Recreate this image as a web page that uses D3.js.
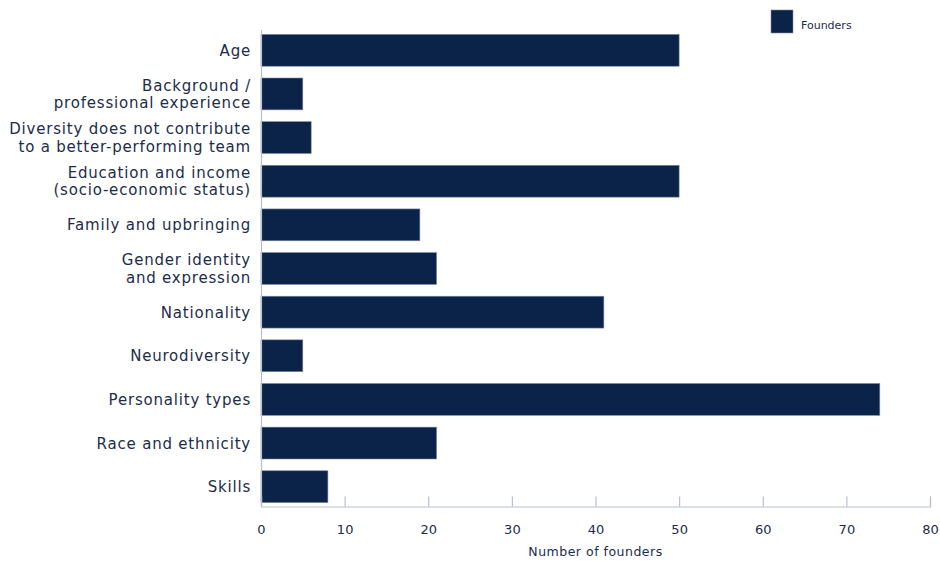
<!DOCTYPE html>
<html>
<head>
<meta charset="utf-8">
<script src="https://cdn.jsdelivr.net/npm/d3@7"></script>
<style>
  body { margin: 0; background: #ffffff; }
  svg text { font-family: "DejaVu Sans", sans-serif; fill: #1d2c4c; }
</style>
</head>
<body>
<svg id="chart" width="940" height="561"></svg>
<script>
// Reasons founders gave, one entry per bar (lines split for wrapped labels)
const categories = [
  ["Age"],
  ["Background /", "professional experience"],
  ["Diversity does not contribute", "to a better-performing team"],
  ["Education and income", "(socio-economic status)"],
  ["Family and upbringing"],
  ["Gender identity", "and expression"],
  ["Nationality"],
  ["Neurodiversity"],
  ["Personality types"],
  ["Race and ethnicity"],
  ["Skills"]
];
const founders = [50, 5, 6, 50, 19, 21, 41, 5, 74, 21, 8];
const xTicks = [0, 10, 20, 30, 40, 50, 60, 70, 80];
const seriesName = "Founders";
const xTitle = "Number of founders";

const svg = d3.select("#chart");
const navy = "#0b2349";
const axisGrey = "#b9c0cc";
const lineGap = 17.5;

const x = d3.scaleLinear().domain([0, 80]).range([261, 930]);
const keys = categories.map(c => c.join(" "));
const y = d3.scaleBand().domain(keys).range([30, 507]).paddingInner(0.27).paddingOuter(0.1);

// bars
svg.append("g").selectAll("rect")
  .data(founders)
  .join("rect")
  .attr("x", x(0))
  .attr("y", (d, i) => y(keys[i]))
  .attr("width", d => x(d) - x(0))
  .attr("height", y.bandwidth())
  .attr("fill", navy)
  .attr("stroke", "#7c8aa3")
  .attr("stroke-width", 0.6);

// x axis: ticks point up into the plot
const xAxis = d3.axisBottom(x).tickValues(xTicks).tickSize(-10).tickPadding(18);
const gx = svg.append("g").attr("transform", "translate(0,506.5)").call(xAxis);
gx.select(".domain").attr("stroke", axisGrey).attr("stroke-width", 1.2);
gx.selectAll(".tick line").attr("stroke", axisGrey).attr("stroke-width", 1.2);
gx.selectAll(".tick text").attr("font-size", 13).attr("fill", "#1d2c4c")
  .style("font-family", "'DejaVu Sans', sans-serif");

// y axis line
svg.append("line")
  .attr("x1", 261.5).attr("x2", 261.5)
  .attr("y1", 30).attr("y2", 507)
  .attr("stroke", axisGrey).attr("stroke-width", 1.2);

// category labels
const lab = svg.append("g").selectAll("text")
  .data(categories)
  .join("text")
  .attr("text-anchor", "end")
  .attr("font-size", 15)
  .attr("letter-spacing", 0.8)
  .attr("transform", (d, i) => {
    const cy = y(keys[i]) + y.bandwidth() / 2;
    const off = (d.length - 1) * lineGap / 2;
    return `translate(251,${cy - off + 5.5})`;
  });
lab.selectAll("tspan")
  .data(d => d)
  .join("tspan")
  .attr("x", 0)
  .attr("dy", (d, i) => i === 0 ? 0 : lineGap)
  .text(d => d);

// x axis title
svg.append("text")
  .attr("x", x(40)).attr("y", 556)
  .attr("text-anchor", "middle")
  .attr("font-size", 12.5)
  .attr("letter-spacing", 0.5)
  .text(xTitle);

// legend
svg.append("rect").attr("x", 771).attr("y", 10).attr("width", 22).attr("height", 23)
  .attr("fill", navy).attr("stroke", "#7c8aa3").attr("stroke-width", 0.6);
svg.append("text").attr("x", 801).attr("y", 29).attr("font-size", 11).text(seriesName);
</script>
</body>
</html>
